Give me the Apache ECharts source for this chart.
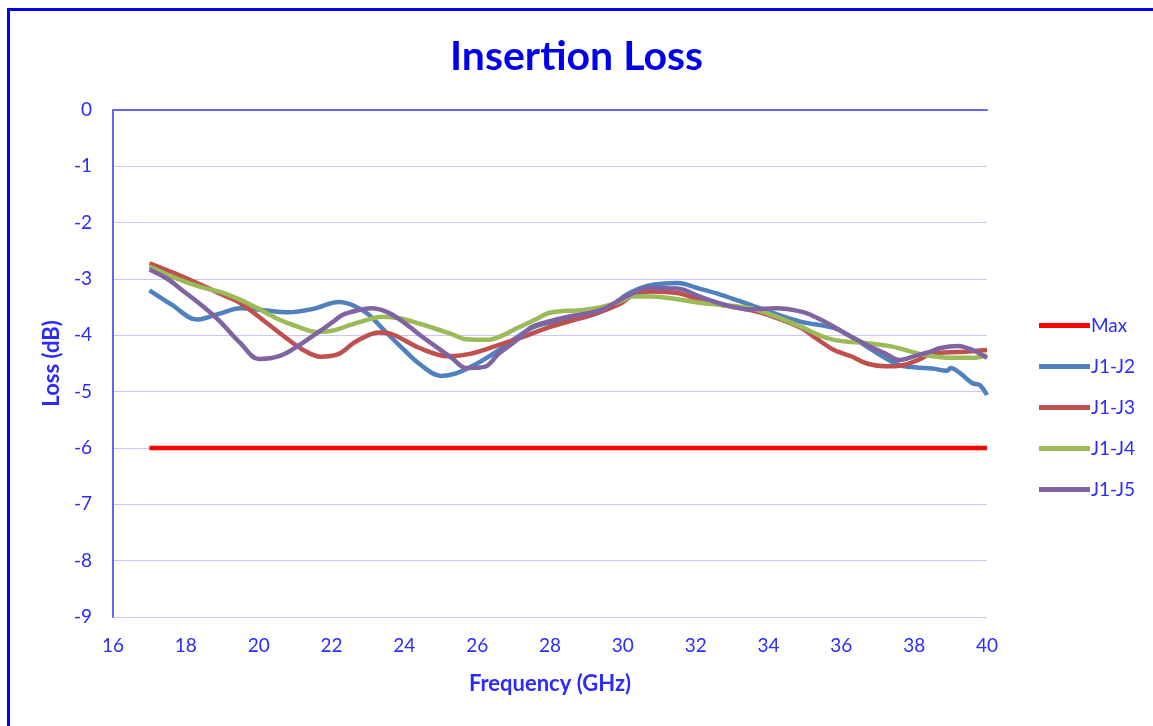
<!DOCTYPE html>
<html>
<head>
<meta charset="utf-8">
<script src="https://cdn.jsdelivr.net/npm/echarts@6/dist/echarts.min.js"></script>
<style>html,body{margin:0;padding:0;background:#fff}#c{width:1153px;height:726px}</style>
</head>
<body>
<div id="c"></div>
<script>
const xTicks = [16, 40, 2];
const yTicks = [-9, 0, 1];
const seriesNames = ['Max', 'J1-J2', 'J1-J3', 'J1-J4', 'J1-J5'];

const maxFreq = [17, 40];
const maxLoss = [-6, -6];

const j12Freq = [17.0, 17.6, 18.3, 18.9, 19.5, 20.2, 20.8, 21.5, 22.2, 22.6, 23.0, 23.4, 23.9, 24.4, 25.0, 25.4, 26.0, 26.6, 27.5, 28.2, 29.0, 29.6, 30.1, 30.7, 31.5, 32.1, 32.7, 33.5, 34.2, 34.9, 35.8, 36.2, 36.7, 37.15, 37.6, 38.06, 38.5, 38.9, 39.0, 39.26, 39.6, 39.8, 40.0];
const j12Loss = [-3.20, -3.45, -3.72, -3.62, -3.52, -3.56, -3.59, -3.53, -3.41, -3.47, -3.62, -3.88, -4.20, -4.50, -4.72, -4.68, -4.50, -4.26, -3.87, -3.75, -3.67, -3.52, -3.28, -3.12, -3.07, -3.17, -3.28, -3.46, -3.62, -3.76, -3.87, -4.00, -4.20, -4.38, -4.53, -4.57, -4.59, -4.63, -4.58, -4.67, -4.85, -4.88, -5.06];

const j13Freq = [17.0, 17.7, 18.4, 19.0, 19.5, 20.1, 20.7, 21.2, 21.7, 22.2, 22.6, 23.0, 23.3, 23.7, 24.4, 25.2, 25.8, 26.6, 27.3, 28.0, 28.7, 29.4, 29.9, 30.3, 30.8, 31.5, 32.1, 32.7, 33.5, 34.0, 34.9, 35.3, 35.8, 36.3, 36.7, 37.2, 37.6, 38.1, 38.5, 39.0, 39.4, 40.0];
const j13Loss = [-2.72, -2.90, -3.10, -3.28, -3.43, -3.72, -4.02, -4.25, -4.38, -4.33, -4.14, -4.00, -3.95, -3.99, -4.22, -4.37, -4.33, -4.17, -4.02, -3.85, -3.72, -3.58, -3.45, -3.28, -3.22, -3.25, -3.37, -3.46, -3.55, -3.64, -3.87, -4.05, -4.26, -4.38, -4.50, -4.55, -4.54, -4.44, -4.32, -4.30, -4.29, -4.26];

const j14Freq = [17.0, 17.7, 18.4, 19.0, 19.5, 20.0, 20.5, 21.0, 21.6, 22.0, 22.5, 23.0, 23.4, 23.9, 24.4, 24.8, 25.3, 25.7, 26.3, 26.7, 27.1, 27.6, 28.0, 28.9, 29.4, 29.8, 30.3, 30.8, 31.5, 32.1, 32.7, 33.5, 34.1, 34.9, 35.4, 35.8, 36.3, 36.7, 37.4, 38.1, 38.5, 39.0, 39.6, 40.0];
const j14Loss = [-2.78, -2.98, -3.14, -3.24, -3.37, -3.53, -3.70, -3.83, -3.94, -3.92, -3.82, -3.72, -3.67, -3.70, -3.79, -3.87, -3.98, -4.07, -4.08, -4.00, -3.87, -3.72, -3.60, -3.55, -3.50, -3.43, -3.31, -3.31, -3.36, -3.42, -3.46, -3.52, -3.64, -3.85, -4.00, -4.08, -4.12, -4.14, -4.20, -4.32, -4.37, -4.40, -4.40, -4.35];

const j15Freq = [17.0, 17.5, 17.9, 18.4, 18.9, 19.5, 20.0, 20.6, 21.1, 21.6, 22.0, 22.3, 22.7, 23.1, 23.5, 23.9, 24.4, 24.8, 25.3, 25.7, 26.2, 26.6, 27.1, 27.5, 28.0, 28.5, 29.4, 30.1, 30.7, 31.5, 32.1, 32.7, 33.5, 34.2, 34.9, 35.3, 35.8, 36.2, 36.7, 37.2, 37.6, 38.1, 38.4, 38.7, 39.2, 39.6, 40.0];
const j15Loss = [-2.83, -3.00, -3.20, -3.45, -3.73, -4.14, -4.42, -4.36, -4.18, -3.96, -3.78, -3.64, -3.56, -3.52, -3.58, -3.73, -3.98, -4.17, -4.40, -4.58, -4.56, -4.32, -4.08, -3.85, -3.75, -3.67, -3.55, -3.31, -3.16, -3.17, -3.31, -3.44, -3.54, -3.52, -3.58, -3.68, -3.85, -4.00, -4.17, -4.32, -4.44, -4.35, -4.30, -4.23, -4.19, -4.26, -4.40];

const colors = ['#FF0000', '#4F81BD', '#C0504D', '#9BBB59', '#8064A2'];
const pairs = (f, v) => f.map((x, i) => [x, v[i]]);
const allData = [pairs(maxFreq, maxLoss), pairs(j12Freq, j12Loss), pairs(j13Freq, j13Loss), pairs(j14Freq, j14Loss), pairs(j15Freq, j15Loss)];

const txt = '#2B2BFF';
const font = 'Lato, "Open Sans", sans-serif';
const chart = echarts.init(document.getElementById('c'));
chart.setOption({
  animation: false,
  backgroundColor: '#fff',
  graphic: [{type: 'rect', left: 6, top: 7, shape: {width: 1200, height: 800}, style: {fill: 'none', stroke: '#0000FF', lineWidth: 3}, silent: true, z: 100}],
  title: {text: 'Insertion Loss', left: 'center', top: 31, textStyle: {color: '#0000EE', fontSize: 41, fontWeight: 'bold', fontFamily: font}},
  grid: {left: 113, top: 110, right: 166, bottom: 109},
  legend: {
    orient: 'vertical', left: 1034, top: 311, itemWidth: 51, itemHeight: 5, itemGap: 22,
    icon: 'rect', data: seriesNames,
    textStyle: {color: txt, fontSize: 19, fontFamily: font, padding: [0, 0, 0, -4]}
  },
  xAxis: {
    type: 'value', min: xTicks[0], max: xTicks[1], interval: xTicks[2],
    name: 'Frequency (GHz)', nameLocation: 'middle', nameGap: 56,
    nameTextStyle: {color: txt, fontSize: 22, fontWeight: 'bold', fontFamily: font},
    axisLine: {lineStyle: {color: '#6666FF', width: 2}}, axisTick: {show: false},
    axisLabel: {color: txt, fontSize: 19, fontFamily: font, margin: 19},
    splitLine: {show: false}
  },
  yAxis: {
    type: 'value', min: yTicks[0], max: yTicks[1], interval: yTicks[2],
    name: 'Loss (dB)', nameLocation: 'middle', nameGap: 50, nameRotate: 90,
    nameTextStyle: {color: txt, fontSize: 22, fontWeight: 'bold', fontFamily: font},
    axisLine: {show: true, lineStyle: {color: '#6666FF', width: 2}}, axisTick: {show: false},
    axisLabel: {color: txt, fontSize: 19, fontFamily: font, margin: 21},
    splitLine: {lineStyle: {color: '#C8C8FF', width: 1}}
  },
  series: seriesNames.map((n, i) => ({
    name: n, type: 'line', data: allData[i], smooth: i === 0 ? false : 0.35,
    showSymbol: false, color: colors[i], lineStyle: {width: 4.5, color: colors[i]}, z: i === 0 ? 1 : 2 + i
  }))
});
</script>
</body>
</html>
